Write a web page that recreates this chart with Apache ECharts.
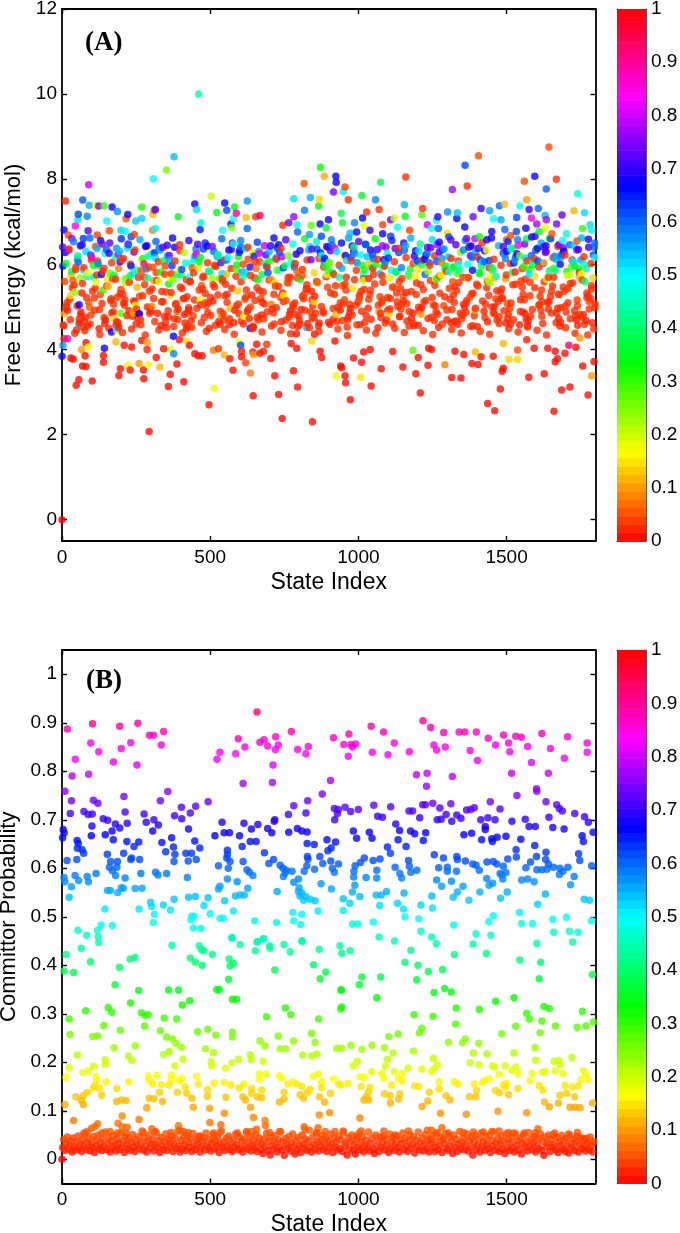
<!DOCTYPE html>
<html><head><meta charset="utf-8">
<script src="https://cdn.jsdelivr.net/npm/echarts@6/dist/echarts.min.js"></script>
<style>html,body{margin:0;padding:0;background:#fff}#c{width:680px;height:1233px}</style></head>
<body><div id="c"></div>
<script>
// Panel A: outlying points read individually [state, free energy, committor]
const freeEnergyOutliers = [[0,0,0.0],[461,10,.45],[378,8.53,.54],[308,8.01,.5],[352,8.22,.26],[90,7.87,.8],[12,7.49,.02],[70,7.51,.61],[92,7.39,.55],[114,7.38,.18],[124,7.37,.75],[142,7.38,.3],[169,7.35,.68],[187,7.24,.57],[222,7.17,.68],[216,7.07,.05],[249,7.02,.53],[269,7.08,.53],[269,7.35,.32],[315,7.29,.72],[311,7.27,.05],[307,7.17,.12],[392,7.12,.35],[448,7.42,.68],[454,7.29,.52],[503,7.6,.2],[522,7.22,.35],[549,7.44,.66],[556,7.27,.62],[582,7.35,.34],[588,7.2,.9],[625,7.49,.57],[621,7.1,.12],[654,7.12,.03],[668,7.15,.93],[55,7.18,.62],[54,7.05,.52],[85,7.13,.58],[45,6.9,.83],[151,7.02,.5],[7,6.81,.68],[88,6.79,.72],[21,6.69,.05],[33,6.61,.76],[72,6.61,.63],[119,6.69,.04],[160,6.79,.04],[199,6.8,.53],[213,6.78,.5],[233,6.65,.62],[244,6.7,.04],[306,6.8,.08],[315,6.84,.5],[466,6.82,.65],[469,6.98,.47],[542,6.8,.5],[570,6.95,.65],[578,7.07,.5],[573,6.86,.25],[625,6.84,.6],[782,7.54,.52],[818,7.27,.58],[782,7.12,.77],[745,6.92,.03],[765,6.98,.73],[793,6.93,.5],[841,6.92,.27],[817,7.9,.05],[868,7.53,.14],[838,7.57,.55],[866,7.37,.33],[872,8.28,.33],[885,8.07,.11],[924,8.07,.66],[925,7.93,.68],[916,7.7,.75],[871,6.95,.68],[899,7.05,.68],[891,6.86,.35],[942,7.2,.38],
[1405,8.55,.05],[1643,8.76,.05],[1360,8.33,.62],[1160,8.05,.03],[1075,7.93,.38],[1560,7.95,.05],[1595,8.07,.68],[1668,8,.03],[1317,7.76,.78],[1367,7.84,.03],[1634,7.77,.6],[1740,7.66,.47],[955,7.82,.04],[949,7.71,.5],[1012,7.62,.36],[1058,7.52,.58],[966,7.52,.03],[1568,7.52,.1],[1493,7.41,.12],[1476,7.38,.6],[1545,7.38,.5],[1155,7.4,.55],[1217,7.31,.03],[1070,7.29,.03],[1414,7.31,.7],[1443,7.26,.56],[1576,7.29,.7],[1607,7.31,.6],[1028,7.23,.03],[1301,7.23,.57],[1334,7.21,.54],[1158,7.13,.35],[1214,7.16,.28],[1727,7.26,.12],[1763,7.21,.52],[1687,7.16,.73],[1268,7.12,.7],[1332,7.08,.66],[1387,7.12,.75],[1456,7.07,.5],[1481,7.05,.56],[1534,7.1,.62],[1584,7.09,.85],[1602,6.95,.78],[1634,7.05,.78],[1669,6.95,.75],[1630,7.15,.55],[1014,7.09,.66],[987,6.98,.58],[1082,6.93,.04],[1109,7.05,.74],[1121,7.09,.2],[1263,7.04,.45],[1233,6.93,.8],[946,6.98,.36],[1019,6.91,.18],[1247,6.85,.5],[1270,6.84,.6],[1132,6.87,.5],[1359,6.88,.68],[1300,6.73,.14],[1631,6.86,.18],[1756,6.84,.3],[1782,6.93,.52],[1787,6.8,.48],[1039,6.8,.7],[972,6.73,.54],[994,6.76,.68],[1173,6.8,.04],[1082,6.72,.68],[1109,6.66,.63],[1450,6.77,.68],[1494,6.82,.6],[1533,6.77,.62],[1565,6.85,.68],[1596,6.66,.7],[1702,6.72,.47],[1653,6.72,.05],[1610,6.77,.34],[1514,6.68,.05],[1500,6.58,.05],[1365,6.61,.74],[1312,6.57,.72],[1433,6.58,.68],[1408,6.65,.34],[1568,6.6,.36],[1645,6.61,.34],[1776,6.59,.68],[1676,6.46,.74],[1737,6.55,.05],[1728,6.43,.52],
[294,2.07,.01],[496,2.7,.01],[513,3.09,.18],[743,2.38,.01],[845,2.3,.01],[731,2.94,.01],[645,2.91,.01],[795,3.12,.01],[781,3.5,.01],[718,3.38,.01],[577,3.51,.01],[636,3.45,.08],[48,3.16,.01],[57,3.29,.01],[102,3.26,.01],[192,3.39,.01],[197,3.55,.01],[230,3.52,.01],[276,3.31,.01],[275,3.52,.01],[222,3.63,.16],[260,3.67,.1],[291,3.64,.17],[330,3.59,.12],[359,3.13,.01],[365,3.42,.01],[411,3.24,.01],[388,3.66,.01],[69,3.61,.01],[81,3.6,.01],[78,3.85,.01],[0,3.84,.68],[140,3.7,.01],[140,3.86,.01],[143,4.03,.68],[30,3.8,.01],[38,3.77,.01],[3,4.1,.56],[7,4.25,.02],[19,4.25,.88],[81,4.16,.01],[66,4,.1],[89,4.06,.17],[210,4.1,.01],[235,4.06,.01],[269,4.21,.01],[287,4.17,.1],[287,4,.02],[318,3.81,.01],[343,4.02,.01],[367,4,.18],[377,3.9,.58],[376,4.31,.68],[396,4.23,.01],[421,4.2,.15],[430,4.1,.01],[448,3.9,.01],[460,3.85,.01],[473,3.85,.01],[511,3.98,.08],[528,4.02,.03],[548,3.87,.12],[566,3.78,.01],[597,4.17,.18],[603,4.1,.62],[606,3.96,.02],[606,3.83,.01],[620,3.69,.04],[657,4.12,.01],[646,3.88,.1],[644,3.94,.02],[691,4.12,.03],[680,3.96,.02],[668,3.91,.01],[705,3.79,.01],[773,4.14,.01],[792,4.03,.01],[842,4.2,.14],[852,4.36,.01],[825,4.52,.55],[791,4.37,.01],[871,3.96,.01],[876,3.81,.01],[921,4.2,.01],[940,3.61,.01],[925,3.38,.18],[57,4.6,.55],[635,4.5,.68],[167,4.41,.68],[188,4.5,.55],[185,4.45,.15],[182,4.18,.12],[261,4.84,.68],[58,5.05,.68],[198,4.85,.28],
[973,2.82,.01],[1043,3.14,.01],[1008,3.35,.15],[957,3.22,.01],[944,3.57,.01],[955,3.38,.01],[984,3.8,.01],[1011,3.7,.01],[1018,3.94,.01],[1040,4,.01],[1077,3.55,.01],[1116,3.95,.01],[1150,3.59,.01],[1194,3.43,.01],[1209,2.98,.01],[1235,3.63,.01],[1202,3.81,.01],[1184,3.98,.28],[1237,4.03,.01],[1247,4,.01],[1292,3.64,.08],[1315,3.34,.01],[1346,3.33,.01],[1326,3.96,.01],[1356,3.88,.01],[1395,3.94,.12],[1383,3.67,.01],[1404,3.65,.01],[1414,3.83,.01],[1455,3.84,.01],[1436,2.73,.01],[1460,2.56,.01],[1479,3.07,.01],[1489,3.56,.01],[1485,3.49,.01],[1508,3.77,.14],[1537,3.77,.14],[1537,3.99,.05],[1593,4.03,.01],[1575,3.35,.01],[1627,3.43,.01],[1660,2.55,.01],[1686,3.05,.01],[1714,3.12,.01],[1664,3.71,.01],[1672,3.78,.01],[1639,4.03,.01],[1664,3.96,.01],[1697,3.91,.01],[1734,4.05,.01],[1757,3.61,.01],[1795,3.72,.01],[1775,2.93,.01],[1787,3.38,.1],[1747,4.27,.1],[1774,4.34,.03],[1710,4.1,.93],[1489,4.14,.12],[1568,4.23,.02]];

// Panel A: crowded band, estimated readings [state / energy / committor in parallel]
const denseStates = [
37,4,52,19,44,11,58,26,2,49,33,15,55,8,41,22,60,29,47,13,
97,71,112,84,64,118,90,75,106,67,101,79,115,93,62,109,86,73,120,98,
138,159,127,171,144,122,165,133,176,150,129,168,141,179,125,156,136,174,147,162,
203,187,226,194,215,182,233,208,190,238,199,221,185,230,212,196,240,205,224,192,
268,247,291,256,279,243,298,262,285,250,273,295,259,282,245,289,265,276,253,300,
331,309,352,318,344,303,358,326,312,349,337,306,355,322,341,315,360,334,347,328,
392,366,417,378,405,362,413,385,371,398,419,375,409,363,388,402,380,415,368,395,
449,427,471,436,462,422,477,443,431,468,454,424,474,439,458,429,466,446,480,433,
512,486,533,495,524,483,538,506,490,529,501,519,484,536,497,515,527,492,540,509,
571,546,592,555,583,542,598,564,550,588,575,544,595,560,579,552,590,567,600,557,
632,608,651,617,644,603,658,625,612,648,636,605,655,620,640,614,660,628,646,622,
691,666,713,675,704,662,718,684,671,709,695,664,716,679,699,673,720,688,706,681,
752,726,771,737,763,722,777,745,731,768,756,724,774,740,759,734,780,748,766,742,
811,786,833,795,824,782,838,804,790,829,815,784,836,799,819,793,840,807,826,801,
872,846,893,855,884,842,898,865,851,889,876,844,896,860,880,853,900,868,886,862,
931,906,953,915,944,902,958,924,911,949,935,904,956,919,939,913,960,927,946,921,
992,966,1013,975,1004,962,1018,984,971,1009,996,964,1016,979,999,973,1020,988,1006,981,
1051,1026,1073,1035,1064,1022,1078,1044,1031,1069,1055,1024,1076,1039,1059,1033,1080,1048,1066,1041,
1112,1086,1133,1095,1124,1082,1138,1104,1091,1129,1116,1084,1136,1099,1120,1093,1140,1108,1126,1101,
1171,1146,1193,1155,1184,1142,1198,1164,1151,1189,1175,1144,1196,1159,1179,1153,1200,1168,1186,1161,
1232,1206,1253,1215,1244,1202,1258,1224,1211,1249,1235,1204,1256,1219,1239,1213,1260,1228,1246,1221,
1291,1266,1313,1275,1304,1262,1318,1284,1271,1309,1295,1264,1316,1279,1299,1273,1320,1288,1306,1281,
1352,1326,1373,1335,1364,1322,1378,1344,1331,1369,1355,1324,1376,1339,1359,1333,1380,1348,1366,1341,
1411,1386,1433,1395,1424,1382,1438,1404,1391,1429,1415,1384,1436,1399,1419,1393,1440,1408,1426,1401,
1472,1446,1493,1455,1484,1442,1498,1464,1451,1489,1475,1444,1496,1459,1479,1453,1500,1468,1486,1461,
1531,1506,1553,1515,1544,1502,1558,1524,1511,1549,1535,1504,1556,1519,1539,1513,1560,1528,1546,1521,
1592,1566,1613,1575,1604,1562,1618,1584,1571,1609,1595,1564,1616,1579,1599,1573,1620,1588,1606,1581,
1651,1626,1673,1635,1664,1622,1678,1644,1631,1669,1655,1624,1676,1639,1659,1633,1680,1648,1666,1641,
1712,1686,1733,1695,1724,1682,1738,1704,1691,1729,1715,1684,1736,1699,1719,1693,1740,1708,1726,1701,
1771,1746,1793,1755,1784,1742,1798,1764,1751,1789,1775,1744,1796,1759,1779,1753,1797,1768,1786,1761];
const denseEnergy = [
5.62,4.58,6.12,4.92,5.35,6.28,4.71,5.18,6.41,4.46,5.83,5.02,6.05,4.84,5.51,6.33,4.63,5.27,5.94,4.97,
6.22,4.52,5.44,5.71,4.88,6.37,5.11,4.67,5.98,5.33,6.16,4.76,5.58,4.99,6.44,5.21,4.55,5.87,6.08,4.81,
5.39,6.26,4.94,5.66,4.61,6.02,5.15,5.76,4.73,6.35,5.29,4.86,5.91,6.18,4.49,5.48,6.48,5.06,4.69,5.79,
6.11,5.23,4.91,6.31,5.56,4.57,5.96,5.09,6.24,4.78,5.41,6.39,4.65,5.73,5.17,6.06,4.87,5.31,6.46,4.53,
5.85,5.04,6.19,4.74,5.52,6.29,4.96,5.25,5.89,4.6,6.14,5.37,4.83,6.42,5.13,5.68,4.7,6.01,5.46,4.9,
6.34,5.2,4.51,5.81,6.09,5.01,4.77,5.6,6.27,4.64,5.36,5.93,6.45,4.85,5.12,6.15,5.54,4.56,5.77,6.38,
4.95,5.28,6.03,4.72,5.43,6.21,4.82,5.08,5.97,6.32,4.48,5.64,5.19,6.1,4.89,5.75,6.4,4.62,5.34,5.86,
6.2,4.98,5.5,4.68,6.07,5.24,6.36,4.79,5.7,5.05,6.25,4.54,5.42,5.92,6.47,4.93,5.16,6.13,4.75,5.59,
6.3,5.03,4.59,5.84,6.17,5.32,4.8,5.67,6.43,4.66,5.22,5.95,5.1,6.04,4.5,5.47,6.23,4.87,5.78,5.14,
6.35,4.7,5.38,6.1,4.92,5.61,6.28,4.58,5.26,5.88,6.5,4.84,5.07,6.16,4.63,5.53,5.99,4.97,6.33,5.3,
4.73,5.82,6.06,5.18,4.55,6.41,5.45,4.89,5.72,6.19,5,4.67,5.9,6.37,5.28,4.78,5.63,6.12,4.52,5.4,
5.94,6.26,4.86,5.11,6.44,4.69,5.55,6.02,5.2,4.95,5.8,6.31,4.6,5.35,6.08,4.81,5.49,6.22,5.06,4.72,
5.97,6.39,4.91,5.23,5.69,6.15,4.57,5.33,6.46,4.83,5.15,5.87,6.05,4.65,5.58,6.29,4.98,5.27,4.76,6.18,
5.74,5.09,6.34,4.54,5.42,6.01,4.88,5.65,6.24,4.61,5.19,5.93,6.42,4.79,5.31,5.83,6.11,4.94,5.52,4.68,
6.27,5.02,5.76,4.85,6.07,5.37,6.4,4.56,5.13,5.96,6.2,4.74,5.46,6.36,4.9,5.25,5.85,4.62,6.14,5.57,
4.99,6.32,5.17,4.71,5.91,6.03,5.4,4.82,6.45,5.08,5.7,4.59,6.21,5.3,4.93,5.81,6.09,4.66,5.5,6.38,
5.04,4.77,5.98,6.16,5.21,4.53,5.62,6.3,4.87,5.36,6.04,4.69,5.78,6.43,5.12,4.96,5.88,6.25,4.58,5.44,
6.13,4.8,5.24,5.67,6.35,4.64,5.1,5.92,6.18,4.89,5.54,6.47,4.75,5.29,6,4.97,5.73,6.23,4.51,5.39,
5.86,6.11,5.01,4.7,6.37,5.16,5.6,4.84,6.06,5.33,4.6,5.95,6.28,4.92,5.47,6.41,4.78,5.2,5.82,6.15,
4.55,5.07,5.71,6.33,4.86,5.43,6.02,4.67,5.26,6.19,5.89,4.95,5.56,6.44,4.73,5.14,6.08,5.77,4.61,5.34,
6.26,4.91,5.05,5.99,6.39,4.57,5.51,6.12,4.83,5.22,5.84,6.31,4.68,5.41,6.04,4.98,5.66,6.22,4.76,5.11,
5.9,6.46,4.63,5.32,6.17,4.88,5.59,6.35,4.52,5.18,5.96,6.07,4.94,5.75,4.7,6.29,5.28,5.03,5.83,6.14,
4.81,5.48,6.4,4.59,5.09,5.93,6.2,4.85,5.38,5.68,6.34,4.66,5.23,6.01,4.99,5.79,6.43,4.72,5.15,5.87,
6.1,4.56,5.45,6.27,4.9,5.31,5.63,6.38,4.79,5.06,5.97,6.16,4.65,5.53,6.05,4.93,5.27,5.81,6.32,4.54,
5.13,5.74,6.23,4.87,5.42,6.09,4.62,5.19,5.92,6.42,4.77,5.57,6.13,5,5.35,5.86,6.3,4.69,5.21,5.69,
6.18,4.83,5.46,6.36,4.58,5.08,5.95,6.03,4.96,5.61,6.25,4.74,5.3,5.8,6.45,4.6,5.17,6.11,4.89,5.52,
6.06,4.71,5.25,5.88,6.37,4.84,5.4,6.21,4.53,5.04,5.72,6.15,4.92,5.58,6.33,4.67,5.12,5.98,6.08,4.78,
5.36,6.41,4.97,5.65,6.19,4.61,5.29,5.85,6.28,4.86,5.49,6.02,4.73,5.1,5.91,6.44,4.55,5.24,6.12,4.95,
5.76,6.24,4.8,5.37,6.07,4.64,5.16,5.83,6.39,4.91,5.55,6.17,4.7,5.02,5.94,6.31,4.57,5.43,6.05,4.88,
5.33,5.7,6.22,4.76,5.2,6.35,4.98,5.6,6.1,4.63,5.27,5.89,6.4,4.82,5.13,5.78,6.16,4.68,5.5,6.01];
const denseCommittor = [
.05,.03,.56,.02,.25,.67,.03,.03,.72,.02,.38,.04,.6,.11,.03,.78,.02,.14,.04,.02,
.62,.03,.03,.45,.02,.55,.05,.03,.35,.02,.88,.02,.18,.06,.68,.03,.02,.52,.03,.04,
.3,.7,.03,.04,.02,.58,.02,.66,.14,.61,.04,.03,.03,.42,.02,.12,.74,.03,.02,.28,
.05,.03,.02,.54,.22,.03,.64,.02,.8,.03,.04,.52,.02,.36,.03,.68,.1,.03,.6,.02,
.05,.16,.48,.02,.03,.72,.03,.04,.58,.02,.31,.03,.02,.66,.03,.44,.04,.92,.12,.02,
.56,.03,.02,.04,.38,.08,.02,.2,.64,.03,.03,.05,.7,.02,.03,.52,.34,.02,.03,.6,
.02,.14,.48,.03,.03,.75,.02,.04,.63,.03,.02,.26,.03,.55,.05,.4,.68,.02,.03,.18,
.58,.03,.05,.02,.33,.03,.62,.04,.5,.02,.85,.03,.03,.06,.72,.02,.16,.46,.03,.03,
.6,.04,.02,.36,.54,.03,.1,.23,.67,.02,.03,.03,.05,.64,.02,.03,.41,.03,.52,.02,
.7,.03,.13,.58,.02,.04,.63,.02,.03,.28,.76,.03,.04,.5,.02,.03,.37,.12,.68,.03,
.02,.56,.03,.05,.03,.6,.03,.02,.44,.65,.04,.03,.07,.53,.02,.19,.35,.04,.02,.03,
.58,.82,.03,.02,.69,.03,.15,.47,.04,.02,.61,.55,.03,.03,.32,.02,.03,.72,.08,.03,
.4,.64,.02,.04,.03,.57,.03,.02,.66,.03,.05,.24,.5,.02,.12,.62,.03,.16,.03,.78,
.05,.03,.56,.02,.03,.43,.03,.33,.68,.02,.03,.6,.52,.03,.04,.06,.74,.02,.03,.02,
.64,.03,.18,.03,.57,.02,.7,.03,.14,.37,.5,.03,.04,.62,.03,.02,.3,.02,.66,.06,
.03,.72,.04,.02,.55,.26,.03,.12,.6,.03,.45,.02,.68,.03,.02,.4,.52,.03,.05,.88,
.03,.02,.36,.63,.04,.03,.2,.71,.02,.03,.58,.03,.48,.65,.03,.02,.32,.56,.03,.15,
.6,.03,.04,.02,.7,.03,.03,.42,.54,.1,.03,.66,.03,.04,.34,.02,.03,.62,.02,.03,
.47,.68,.03,.02,.73,.04,.03,.13,.57,.03,.03,.39,.62,.02,.05,.76,.03,.03,.52,.64,
.03,.04,.16,.6,.02,.03,.44,.03,.04,.7,.31,.03,.03,.55,.02,.03,.63,.5,.03,.02,
.58,.03,.04,.37,.72,.02,.03,.66,.1,.03,.23,.52,.03,.03,.6,.02,.18,.68,.03,.03,
.4,.78,.02,.03,.54,.03,.05,.64,.02,.03,.35,.61,.03,.17,.02,.7,.03,.04,.46,.57,
.03,.03,.65,.02,.03,.33,.74,.02,.03,.12,.58,.03,.04,.5,.02,.28,.68,.03,.03,.43,
.62,.03,.03,.56,.02,.04,.2,.7,.03,.03,.38,.6,.02,.03,.52,.1,.03,.33,.66,.02,
.03,.16,.54,.03,.03,.63,.02,.04,.36,.72,.03,.24,.58,.02,.03,.41,.68,.03,.03,.12,
.6,.03,.03,.5,.02,.05,.31,.64,.03,.03,.7,.02,.03,.4,.85,.02,.03,.56,.03,.03,
.45,.03,.03,.37,.66,.02,.03,.6,.02,.04,.14,.52,.03,.03,.72,.02,.03,.34,.62,.03,
.03,.68,.02,.18,.57,.03,.04,.42,.78,.03,.03,.64,.02,.03,.3,.7,.02,.03,.55,.03,
.2,.6,.03,.03,.48,.02,.04,.36,.75,.03,.03,.58,.02,.03,.27,.66,.02,.03,.52,.03,
.03,.12,.63,.02,.03,.7,.03,.4,.56,.02,.03,.33,.6,.03,.04,.18,.5,.02,.03,.46];

// Panel A: extra estimated low-energy readings in the crowded band [state, energy]
const lowEnergyFill = [[6,4.55],[17,5.1],[28,4.7],[35,5.45],[43,4.38],[51,5.02],[63,4.82],[69,5.55],[77,4.44],[83,5.22],[95,4.6],[103,5.37],[110,4.92],[117,5.75],[128,4.35],[135,5.08],[142,4.75],[151,5.5],[158,4.5],[166,5.19],[173,4.88],[181,5.65],[189,4.62],[197,5.31],[204,4.4],[211,5.04],[219,4.79],[227,5.58],[235,4.48],[242,5.14],[251,4.95],[258,5.7],[266,4.58],[272,5.26],[281,4.34],[288,5],[296,4.85],[304,5.42],[313,4.66],[320,5.62],[327,4.46],[336,5.12],[345,4.78],[351,5.35],[358,4.91],[369,5.78],[377,4.54],[383,5.06],[391,4.7],[399,5.47],[406,4.39],[414,5.2],[423,4.86],[431,5.6],[438,4.52],[447,5.16],[455,4.97],[463,5.4],[470,4.63],[478,5.72],[487,4.43],[494,5.09],[502,4.8],[510,5.52],[518,4.57],[526,5.28],[534,4.9],[541,5.66],[549,4.47],[557,5.11],[565,4.72],[573,5.44],[581,4.36],[589,5.03],[597,4.84],[604,5.59],[612,4.6],[620,5.23],[628,4.94],[636,5.74],[643,4.49],[651,5.15],[659,4.76],[667,5.38],[675,4.41],[683,5.07],[692,4.88],[699,5.63],[707,4.55],[715,5.3],[723,4.98],[731,5.48],[739,4.45],[747,5.13],[755,4.69],[763,5.56],[771,4.37],[779,5.05],[787,4.82],[795,5.68],[803,4.59],[811,5.25],[819,4.92],[827,5.43],[835,4.51],[843,5.17],[851,4.74],[859,5.6],[867,4.42],[875,5.01],[883,4.86],[891,5.71],[899,4.64],[907,5.33],[915,4.96],[923,5.5],[931,4.48],[939,5.1],[947,4.68],[955,5.54],[963,4.33],[971,5.06],[979,4.81],[987,5.64],[995,4.58],[1003,5.27],[1011,4.9],[1019,5.41],[1027,4.46],[1035,5.18],[1043,4.71],[1051,5.76],[1059,4.38],[1067,5.04],[1075,4.85],[1083,5.58],[1091,4.62],[1099,5.22],[1107,4.95],[1115,5.46],[1123,4.5],[1131,5.12],[1139,4.77],[1147,5.67],[1155,4.4],[1163,5.08],[1171,4.89],[1179,5.36],[1187,4.56],[1195,5.29],[1203,4.99],[1211,5.52],[1219,4.44],[1227,5.15],[1235,4.73],[1243,5.62],[1251,4.35],[1259,5.02],[1267,4.83],[1275,5.73],[1283,4.6],[1291,5.24],[1299,4.93],[1307,5.44],[1315,4.47],[1323,5.11],[1331,4.67],[1339,5.57],[1347,4.39],[1355,5.06],[1363,4.87],[1371,5.69],[1379,4.54],[1387,5.32],[1395,4.97],[1403,5.49],[1411,4.43],[1419,5.14],[1427,4.75],[1435,5.61],[1443,4.36],[1451,5],[1459,4.84],[1467,5.38],[1475,4.61],[1483,5.2],[1491,4.91],[1499,5.75],[1507,4.49],[1515,5.09],[1523,4.7],[1531,5.53],[1539,4.41],[1547,5.17],[1555,4.88],[1563,5.65],[1571,4.57],[1579,5.26],[1587,4.94],[1595,5.45],[1603,4.45],[1611,5.05],[1619,4.78],[1627,5.59],[1635,4.34],[1643,5.13],[1651,4.86],[1659,5.7],[1667,4.63],[1675,5.3],[1683,4.98],[1691,5.47],[1699,4.51],[1707,5.1],[1715,4.72],[1723,5.56],[1731,4.38],[1739,5.03],[1747,4.82],[1755,5.63],[1763,4.59],[1771,5.22],[1779,4.95],[1787,5.42],[1794,4.48],[1799,5.07]];

// Panel A: extra estimated upper-band readings, colours mixed [state, energy, committor]
const upperEnergyFill = [[3,5.96,.66],[9,5.6,.04],[14,6.02,.35],[24,6.36,.03],[31,5.75,.12],[39,6.53,.58],[46,5.88,.03],[53,6.2,.42],[61,5.68,.24],[68,6.46,.7],[74,5.92,.03],[81,6.3,.52],[87,5.8,.18],[94,6.62,.6],[99,6.1,.03],[107,5.7,.46],[113,6.42,.05],[121,5.98,.34],[130,6.56,.66],[137,5.84,.03],[145,6.26,.5],[153,5.65,.15],[161,6.5,.72],[168,6.04,.03],[176,5.74,.38],[184,6.38,.57],[191,5.9,.08],[200,6.6,.64],[207,6.14,.03],[214,5.66,.28],[223,6.48,.78],[231,6,.03],[239,5.78,.52],[246,6.34,.04],[254,5.86,.42],[263,6.58,.55],[270,6.12,.2],[278,5.7,.03],[286,6.44,.68],[293,5.94,.03],[301,6.24,.46],[310,5.62,.1],[317,6.54,.6],[325,6.06,.03],[333,5.82,.32],[340,6.4,.74],[348,5.96,.04],[356,6.2,.56],[365,5.68,.17],[373,6.62,.66],[381,6.08,.03],[389,5.76,.4],[397,6.46,.03],[404,5.88,.62],[412,6.28,.22],[420,5.64,.03],[428,6.56,.7],[436,6.02,.5],[444,5.8,.03],[452,6.36,.58],[459,5.92,.14],[467,6.16,.36],[475,5.7,.03],[483,6.5,.64],[491,6.04,.03],[499,5.84,.44],[507,6.42,.76],[515,5.98,.03],[523,6.22,.53],[531,5.66,.27],[539,6.6,.6],[547,6.1,.03],[555,5.78,.12],[563,6.34,.68],[571,5.9,.03],[579,6.48,.47],[587,5.72,.03],[595,6.18,.33],[603,6.56,.58],[611,6,.04],[619,5.82,.52],[627,6.4,.03],[635,5.94,.7],[643,6.26,.19],[651,5.68,.03],[659,6.52,.62],[667,6.06,.03],[675,5.76,.38],[683,6.44,.8],[691,5.96,.03],[699,6.3,.55],[707,5.64,.1],[715,6.62,.66],[723,6.12,.03],[731,5.86,.43],[739,6.38,.03],[747,5.92,.64],[755,6.58,.72],[763,6.2,.26],[771,5.7,.03],[779,6.48,.5],[787,6.02,.03],[795,6.76,.6],[803,6.32,.68],[811,5.88,.03],[819,6.6,.35],[827,6.1,.03],[835,6.7,.56],[843,6.36,.74],[851,5.8,.14],[859,6.54,.45],[867,6.14,.03],[875,6.66,.62],[883,5.94,.03],[893,6.42,.7],[901,6.04,.3],[909,6.58,.58],[917,5.76,.03],[927,6.3,.52],[935,5.98,.03],[943,6.5,.66],[951,6.18,.18],[959,5.7,.03],[967,6.62,.56],[976,6.08,.03],[985,6.4,.4],[993,5.86,.03],[1001,6.54,.72],[1009,6.22,.5],[1017,5.66,.03],[1025,6.46,.6],[1033,6,.12],[1041,6.34,.68],[1049,5.9,.03],[1057,6.6,.34],[1065,6.12,.03],[1073,5.78,.54],[1081,6.44,.78],[1089,5.96,.03],[1097,6.26,.46],[1105,5.68,.2],[1113,6.56,.64],[1121,6.06,.03],[1129,5.82,.38],[1137,6.38,.03],[1145,5.92,.58],[1153,6.5,.7],[1161,6.16,.03],[1169,5.72,.28],[1177,6.62,.55],[1185,6.02,.03],[1193,6.32,.66],[1201,5.88,.15],[1209,6.48,.42],[1217,6.1,.03],[1225,5.76,.6],[1233,6.4,.74],[1241,5.98,.03],[1249,6.58,.52],[1257,6.2,.03],[1265,5.66,.33],[1273,6.52,.68],[1281,6.04,.08],[1289,6.36,.56],[1297,5.84,.03],[1305,6.64,.62],[1313,6.14,.03],[1321,5.94,.45],[1329,6.46,.72],[1337,6.08,.03],[1345,6.28,.24],[1353,5.7,.03],[1361,6.56,.58],[1369,6,.5],[1377,6.42,.03],[1385,5.86,.66],[1393,6.6,.8],[1401,6.18,.03],[1409,5.78,.36],[1417,6.5,.03],[1425,6.06,.6],[1433,6.34,.17],[1441,5.92,.03],[1449,6.62,.68],[1457,6.12,.03],[1465,5.72,.48],[1473,6.44,.55],[1481,5.98,.03],[1489,6.26,.7],[1497,5.66,.1],[1505,6.54,.64],[1513,6.02,.03],[1521,6.38,.4],[1529,5.82,.03],[1537,6.58,.58],[1545,6.2,.28],[1553,5.9,.03],[1561,6.48,.74],[1569,6.08,.03],[1577,5.76,.52],[1585,6.64,.66],[1593,6.14,.03],[1601,6.36,.34],[1609,5.94,.03],[1617,6.5,.56],[1625,6.04,.12],[1633,6.3,.72],[1641,5.7,.03],[1649,6.6,.62],[1657,6.16,.03],[1665,5.86,.42],[1673,6.42,.03],[1681,6,.68],[1689,6.56,.5],[1697,6.22,.03],[1705,5.74,.2],[1713,6.46,.6],[1721,6.1,.03],[1729,5.96,.36],[1737,6.34,.78],[1745,5.8,.03],[1753,6.62,.55],[1761,6.18,.03],[1769,5.9,.46],[1777,6.4,.7],[1785,6.02,.03],[1791,5.68,.14],[1797,6.5,.6]];

// Panel B: readings above the crowded band [state, committor probability]
const committorUpper = [[18,.887],[103,.898],[195,.893],[256,.899],[295,.874],[309,.874],[343,.882],[335,.854],[232,.859],[200,.847],[97,.858],[124,.84],[45,.825],[174,.819],[253,.813],[34,.79],[90,.794],[10,.759],[32,.739],[106,.74],[121,.734],[209,.748],[332,.739],[357,.758],[403,.726],[451,.728],[493,.737],[28,.713],[74,.717],[88,.711],[102,.712],[213,.716],[277,.712],[380,.708],[404,.702],[433,.714],[139,.702],[154,.699],[284,.695],[310,.7],[325,.689],[306,.677],[220,.693],[180,.691],[195,.683],[169,.677],[146,.669],[101,.687],[99,.667],[4,.68],[7,.673],[2,.663],[370,.663],[337,.653],[448,.656],[427,.681],[51,.657],[55,.651],[173,.659],[219,.655],[259,.654],[243,.645],[52,.641],[68,.638],[73,.631],[153,.629],[208,.631],[235,.621],[232,.618],[262,.618],[376,.644],[381,.629],[350,.634],[378,.614],[418,.631],[437,.631],[426,.615],[453,.618],[465,.642],[17,.616],[50,.618],[164,.614],[187,.614],[160,.602],[185,.602],[170,.595],[181,.585],[213,.58],[266,.589],[7,.581],[10,.572],[32,.562],[44,.585],[56,.575],[85,.583],[89,.572],[115,.589],[316,.592],[324,.586],[353,.589],[423,.581],[24,.54],[154,.554],[163,.554],[188,.55],[200,.56],[207,.559],[247,.558],[270,.559],[145,.516],[260,.516],[299,.53],[303,.521],[312,.505],[308,.488],[342,.524],[366,.514],[378,.536],[427,.54],[450,.542],[479,.523],[493,.539],[500,.506],[438,.501],[447,.501],[435,.494],[444,.477],[469,.476],
[516,.667],[540,.695],[547,.673],[565,.673],[599,.667],[608,.645],[614,.693],[528,.605],[558,.637],[558,.628],[556,.621],[567,.614],[561,.6],[611,.614],[624,.597],[632,.592],[644,.585],[635,.655],[655,.655],[639,.681],[661,.69],[611,.775],[658,.922],[533,.839],[523,.825],[586,.836],[595,.867],[617,.85],[668,.86],[682,.865],[694,.852],[721,.871],[730,.854],[720,.845],[712,.813],[710,.777],[774,.882],[795,.845],[823,.836],[831,.851],[916,.869],[782,.729],[829,.739],[878,.753],[906,.781],[764,.711],[823,.714],[694,.682],[708,.673],[718,.7],[716,.697],[765,.674],[794,.682],[809,.677],[827,.675],[683,.632],[698,.61],[714,.618],[736,.606],[746,.6],[756,.596],[753,.59],[747,.583],[776,.594],[782,.571],[798,.578],[828,.624],[830,.619],[826,.605],[817,.594],[852,.598],[827,.651],[851,.649],[894,.659],[897,.636],[908,.642],[870,.624],[880,.61],[907,.615],[912,.6],[919,.592],[933,.609],[923,.654],[919,.723],[932,.721],[920,.7],[929,.713],[726,.552],[800,.56],[798,.552],[803,.543],[815,.534],[809,.549],[822,.542],[837,.536],[854,.533],[874,.568],[909,.557],[779,.509],[864,.512],[724,.488],[782,.492],[809,.505],[805,.484],[650,.492],[533,.497],[544,.497],[549,.533],[578,.512],[533,.563],[528,.557],[558,.578],[591,.572],[585,.543],[601,.545],[615,.545],[627,.559],[54,.472],[83,.462],[120,.472],[122,.459],[132,.483],[170,.482],[573,.457],[660,.449],[680,.455],[810,.45],
[968,.877],[1043,.893],[1085,.881],[1218,.904],[1244,.89],[1288,.88],[1340,.881],[1359,.881],[1398,.881],[1438,.868],[1490,.875],[1531,.872],[1550,.87],[1619,.878],[1706,.871],[1772,.858],[951,.855],[975,.855],[991,.856],[980,.85],[966,.831],[1047,.839],[1100,.834],[1121,.858],[1172,.84],[1255,.854],[1264,.844],[1293,.85],[1377,.843],[1402,.822],[1463,.854],[1507,.858],[1511,.84],[1571,.851],[1584,.818],[1648,.847],[1695,.827],[1772,.839],[1196,.793],[1232,.796],[1230,.769],[1317,.789],[1517,.796],[1641,.796],[1535,.75],[1601,.764],[1602,.759],[955,.726],[974,.717],[1000,.721],[1052,.73],[1109,.727],[1065,.707],[1081,.705],[1171,.718],[1183,.718],[1207,.704],[1217,.731],[1226,.731],[1251,.734],[1275,.724],[1312,.733],[1365,.72],[1379,.721],[1391,.725],[1445,.737],[1478,.722],[1633,.737],[1669,.731],[1678,.723],[1688,.718],[1730,.713],[1643,.705],[1763,.706],[1776,.695],[1266,.7],[1279,.701],[1296,.711],[1315,.697],[1332,.71],[1346,.703],[1413,.7],[1437,.704],[1461,.7],[1428,.686],[1428,.68],[1518,.697],[1563,.701],[1576,.686],[1597,.686],[1656,.684],[1694,.681],[1126,.691],[1139,.678],[1176,.677],[1190,.671],[1227,.673],[983,.677],[994,.662],[1037,.674],[1046,.662],[1134,.659],[1219,.657],[1356,.669],[1382,.672],[1416,.659],[1450,.661],[1452,.655],[1468,.664],[1498,.666],[1548,.66],[1755,.667],[1759,.655],[1792,.674],[1161,.645],[1098,.644],[1108,.631],[1595,.647],[1532,.638],[1533,.623],[1633,.633],[1601,.624],[1743,.63],[1747,.616],[1256,.628],[1287,.621],[1332,.624],[1334,.618],[1361,.615],[1504,.619],[1386,.609],[1397,.606],[1408,.596],[1434,.613],[1455,.614],[1467,.609],[1489,.604],[1581,.613],[1632,.618],[1641,.609],[1020,.621],[1007,.612],[989,.605],[1050,.616],[1073,.619],[1169,.616],[1124,.602],[1787,.605],[1271,.601],[1300,.602],[1300,.594],[1331,.594],[1565,.601],[1602,.597],[1619,.597],[1636,.598],[1658,.602],[1680,.6],[1707,.602],[1678,.587],[1690,.594],[1498,.591],[1478,.589],[1062,.596],[1062,.58],[1026,.581],[985,.594],[984,.582],[1172,.604],[1177,.592],[1197,.596],[1140,.589],[1146,.58],[1728,.583],[1716,.566],[1264,.576],[1314,.573],[1281,.563],[1353,.563],[1334,.551],[1320,.54],[1410,.551],[1433,.579],[1441,.565],[1453,.569],[1484,.586],[1487,.578],[1551,.576],[1571,.578],[1593,.572],[988,.565],[980,.551],[1005,.542],[949,.537],[971,.528],[1060,.545],[1077,.545],[1095,.552],[1154,.549],[1248,.543],[1373,.534],[1480,.538],[1502,.551],[1631,.547],[1762,.536],[1780,.534],[1132,.528],[1211,.524],[1250,.518],[1152,.516],[1157,.5],[1072,.523],[1605,.526],[949,.513],[1544,.509],[1455,.502],[1440,.49],[1204,.496],[1656,.495],[1702,.499],[1787,.492],[980,.485],[997,.485],[1050,.489],[1322,.483],[1551,.486],[1587,.486]];
const committorLower = [[7,.388],[14,.422],[65,.435],[124,.447],[96,.407],[39,.385],[194,.396],[246,.416],[230,.413],[371,.441],[463,.44],[471,.432],[433,.415],[450,.406],[473,.4],[479,.43],[507,.422],[564,.413],[578,.404],[567,.399],[601,.443],[574,.456],[652,.43],[700,.44],[702,.435],[658,.448],[680,.454],[749,.443],[770,.428],[810,.45],[868,.433],[849,.401],[890,.386],[871,.372],[718,.39],[562,.371],[179,.36],[259,.348],[360,.349],[393,.349],[522,.35],[531,.35],[431,.327],[406,.318],[231,.322],[575,.33],[589,.33],[156,.313],[168,.303],[80,.306],[24,.289],[268,.302],[280,.297],[291,.298],[345,.291],[387,.289],[754,.312],[772,.298],[690,.294],[866,.289],[943,.349],[940,.31],[27,.257],[104,.253],[120,.254],[141,.276],[197,.266],[279,.275],[332,.265],[353,.252],[373,.248],[385,.239],[403,.231],[458,.263],[492,.268],[519,.256],[575,.262],[575,.252],[668,.244],[685,.234],[729,.254],[781,.244],[842,.26],[854,.241],[176,.23],[247,.234],[484,.228],[511,.22],[736,.228],[755,.228],[52,.215],[812,.215],[842,.213],[860,.217],[927,.229],[224,.213],[236,.204],[146,.205],[146,.196],[343,.216],[362,.222],[408,.206],[503,.201],[505,.193],[635,.215],[638,.205],[552,.188],[574,.199],[596,.206],[678,.202],[24,.189],[14,.169],[70,.179],[89,.182],[107,.192],[381,.193],[115,.171],[117,.162],[149,.16],[185,.146],[225,.16],[291,.171],[320,.173],[294,.164],[306,.155],[335,.154],[370,.173],[370,.164],[361,.153],[404,.167],[396,.162],[454,.171],[460,.155],[513,.157],[547,.158],[570,.153],[614,.155],[640,.146],[666,.176],[688,.176],[666,.165],[734,.172],[741,.167],[763,.155],[779,.159],[792,.155],[809,.15],[848,.171],[865,.176],[876,.16],[876,.148],[916,.166],[933,.155],[110,.152],[126,.147],[47,.129],[72,.131],[85,.138],[106,.147],[134,.132],[10,.113],[65,.121],[72,.113],[185,.119],[201,.122],[216,.121],[286,.106],[294,.126],[310,.125],[329,.138],[339,.119],[389,.138],[416,.149],[421,.136],[438,.126],[491,.144],[491,.13],[498,.105],[553,.128],[599,.147],[610,.129],[619,.122],[659,.129],[640,.136],[674,.127],[674,.143],[734,.118],[749,.124],[749,.138],[803,.133],[815,.126],[828,.138],[837,.144],[869,.129],[886,.118],[906,.136],[636,.107],[868,.091],[903,.096],[548,.095],[443,.107],[39,.08],[260,.082],[203,.089],[646,.086],[499,.076],[685,.08],[687,.069],[536,.071],[189,.074],[120,.073],[817,.067],[864,.065],[393,.069],
[1070,.458],[1122,.45],[1211,.47],[1247,.458],[1263,.445],[1397,.465],[1447,.462],[1387,.444],[1602,.445],[1723,.448],[1659,.468],[1712,.47],[1741,.468],[972,.43],[944,.425],[938,.44],[1177,.431],[1324,.422],[1432,.424],[1157,.406],[1201,.4],[1545,.411],[1615,.406],[1284,.391],[1236,.387],[1012,.376],[1075,.376],[1197,.37],[1003,.36],[1610,.372],[1790,.381],[941,.349],[1291,.352],[1313,.345],[1255,.344],[1062,.333],[1463,.326],[1525,.333],[1330,.312],[944,.314],[1626,.315],[1644,.311],[1408,.309],[1188,.298],[1252,.295],[1568,.301],[1577,.289],[1619,.285],[1756,.305],[1328,.279],[1531,.274],[1665,.275],[1738,.272],[1768,.275],[1793,.283],[1214,.27],[1206,.261],[1613,.261],[1484,.259],[1134,.258],[1103,.253],[1361,.248],[1351,.24],[1304,.241],[1406,.239],[975,.235],[944,.229],[1046,.235],[1012,.227],[1088,.23],[1596,.23],[1186,.223],[1117,.219],[1388,.219],[1434,.217],[1525,.219],[1098,.206],[1253,.208],[1721,.21],[1598,.204],[1377,.199],[1407,.195],[1660,.202],[1677,.203],[1680,.195],[996,.202],[983,.193],[1090,.192],[1266,.195],[1256,.187],[1452,.193],[1495,.193],[1459,.19],[1531,.19],[1518,.183],[1539,.177],[1167,.188],[1214,.186],[1121,.181],[1079,.177],[1045,.181],[1147,.177],[1247,.181],[1619,.179],[1630,.181],[1664,.182],[1690,.177],[1759,.183],[1766,.175],[1586,.177],[1005,.17],[1019,.169],[1085,.167],[1135,.167],[1148,.161],[1475,.175],[1441,.166],[1427,.162],[1418,.158],[1775,.164],[1750,.164],[1579,.162],[1272,.16],[1323,.16],[1336,.155],[965,.156],[941,.153],[1112,.153],[1190,.151],[1204,.15],[1009,.15],[1039,.148],[1391,.155],[1500,.156],[1489,.153],[1498,.149],[1610,.152],[1623,.143],[1697,.152],[1742,.151],[1722,.149],[1273,.145],[1538,.146],[1399,.142],[1463,.142],[1034,.138],[1239,.138],[1476,.137],[1507,.133],[1140,.135],[1088,.135],[1107,.131],[1026,.129],[1680,.132],[1703,.136],[1296,.131],[1375,.129],[1396,.129],[1729,.129],[1136,.124],[1019,.122],[1035,.122],[1309,.122],[1234,.12],[1108,.116],[1628,.118],[1675,.116],[1790,.116],[1215,.109],[1644,.108],[1714,.107],[1731,.107],[1748,.106],[1471,.099],[1277,.095],[1364,.093],[1568,.096],[1005,.085],[1009,.058],[949,.058],[1233,.06],[1247,.06],[1282,.065],[1606,.063],[1169,.058],
[74,.054],[85,.057],[100,.064],[111,.067],[134,.054],[162,.057],[187,.054],[203,.067],[220,.066],[216,.054],[274,.055],[303,.063],[314,.057],[367,.055],[398,.06],[410,.057],[426,.055],[466,.048],[511,.054],[533,.055],[592,.054],[623,.057],[640,.057],[657,.062],[700,.055],[734,.057],[820,.062],[860,.055],[888,.057],[921,.057],[994,.047],[1084,.048],[1124,.05],[1264,.052],[1304,.054],[1354,.055],[1388,.056],[1422,.056],[1450,.057],[1475,.058],[1506,.055],[1523,.054],[1559,.054],[1596,.054],[1658,.05],[1709,.052],[1739,.055],[1765,.043]];

// Panel B: crowded band near zero, one reading every fourth state
const committorBand = [
.024,.041,.018,.033,.046,.021,.029,.038,.015,.044,.026,.019,.036,.048,.022,.031,.016,.04,.027,.052,
.02,.035,.043,.017,.03,.024,.047,.014,.039,.028,.05,.021,.034,.018,.042,.026,.056,.02,.032,.045,
.015,.037,.023,.049,.028,.017,.041,.033,.02,.054,.025,.038,.014,.046,.03,.022,.043,.018,.035,.051,
.026,.016,.04,.029,.047,.021,.034,.058,.019,.044,.027,.015,.037,.05,.023,.032,.042,.017,.03,.055,
.024,.039,.014,.045,.028,.02,.036,.052,.018,.041,.026,.033,.048,.016,.031,.043,.022,.057,.027,.015,
.038,.021,.046,.03,.018,.049,.035,.024,.042,.016,.053,.028,.02,.04,.032,.047,.015,.026,.037,.044,
.019,.054,.029,.023,.041,.017,.034,.05,.021,.038,.027,.045,.014,.031,.058,.024,.036,.018,.043,.028,
.048,.02,.033,.016,.04,.025,.052,.03,.019,.046,.022,.037,.015,.042,.027,.055,.021,.034,.047,.017,
.029,.039,.023,.051,.016,.035,.044,.02,.031,.012,.041,.026,.053,.018,.037,.009,.045,.028,.021,.049,
.033,.015,.04,.024,.056,.019,.036,.008,.043,.03,.022,.047,.017,.034,.052,.026,.011,.039,.02,.045,
.029,.014,.05,.032,.023,.042,.018,.037,.06,.025,.015,.046,.031,.021,.054,.035,.017,.041,.027,.049,
.02,.033,.044,.016,.038,.024,.052,.03,.014,.043,.026,.036,.019,.048,.022,.04,.016,.055,.028,.034,
.009,.045,.021,.037,.05,.018,.031,.011,.042,.025,.053,.02,.035,.047,.015,.029,.039,.023,.056,.017,
.033,.044,.021,.012,.05,.027,.038,.016,.046,.024,.034,.058,.019,.041,.029,.014,.052,.022,.036,.045,
.018,.031,.048,.025,.015,.04,.033,.054,.02,.043,.027,.016,.037,.05,.023,.03,.046,.013,.039,.026,
.056,.019,.034,.044,.017,.029,.051,.021,.038,.015,.042,.031,.048,.024,.016,.036,.055,.02,.028,.045,
.014,.04,.033,.053,.022,.018,.047,.027,.037,.012,.05,.025,.041,.016,.031,.057,.021,.035,.044,.019,
.029,.052,.017,.038,.023,.046,.009,.034,.049,.02,.028,.042,.015,.054,.026,.036,.018,.045,.03,.022,
.05,.014,.039,.027,.056,.019,.033,.043,.016,.031,.048,.021,.037,.012,.052,.025,.04,.018,.034,.046,
.023,.015,.053,.029,.038,.019,.044,.011,.032,.05,.024,.036,.017,.055,.027,.041,.02,.034,.047,.015,
.029,.043,.022,.052,.018,.037,.008,.046,.026,.033,.05,.016,.04,.024,.03,.054,.019,.045,.014,.035,
.028,.049,.021,.038,.016,.043,.027,.013,.05,.032,.023,.041,.018,.036,.047,.015,.03,.045,.022,.039,.026,.017,.043,.033,.02,.046,.028,.015,.036];

const xTicks = [0,500,1000,1500];
const energyTicks = [0,2,4,6,8,10,12];
const probabilityTicks = [0,.1,.2,.3,.4,.5,.6,.7,.8,.9,1];
const colorbarTicks = [0,.1,.2,.3,.4,.5,.6,.7,.8,.9,1];
const hsvStops = ['#ff0000','#ffff00','#00ff00','#00ffff','#0000ff','#ff00ff','#ff0000'];
const colorLevels = Array.from({length:64},(_,i)=>[i/64,(i+1)/64,(i+.5)/64]);

const energyData = freeEnergyOutliers
  .concat(denseEnergy.map((f,i)=>[denseStates[i],f,denseCommittor[i]]))
  .concat(lowEnergyFill.map(p=>[p[0],p[1],.03]))
  .concat(upperEnergyFill)
  .sort((a,b)=>a[0]-b[0]);
const probabilityData = committorUpper.concat(committorLower).map(p=>[p[0],p[1],p[1]])
  .concat(committorBand.map((v,i)=>[i*4+2,v,v])).concat([[0,0,0]]);

const font = 'Liberation Sans, Arial, sans-serif';
const ink = '#000';
const line = {lineStyle:{color:ink,width:1.8}};
function mainAxes(gridIndex, yMin, yMax, yTicks, yName, nameGap){
  const tick = vals => ({show:true,inside:true,length:5,customValues:vals,lineStyle:{color:ink,width:1.4}});
  const x = {type:'value',gridIndex,min:0,max:1800,axisLine:Object.assign({show:true,onZero:false},line),splitLine:{show:false}};
  const y = {type:'value',gridIndex,min:yMin,max:yMax,axisLine:Object.assign({show:true,onZero:false},line),splitLine:{show:false}};
  return {
    x:[Object.assign({},x,{position:'bottom',name:'State Index',nameLocation:'middle',nameGap:30,nameTextStyle:{fontFamily:font,fontSize:23,color:ink},
        axisTick:tick(xTicks),axisLabel:{customValues:xTicks,fontFamily:font,fontSize:19,color:ink,margin:7,formatter:v=>String(v)}}),
       Object.assign({},x,{position:'top',axisTick:tick(xTicks),axisLabel:{show:false}})],
    y:[Object.assign({},y,{position:'left',name:yName,nameLocation:'middle',nameGap,nameTextStyle:{fontFamily:font,fontSize:22,color:ink},
        axisTick:tick(yTicks),axisLabel:{customValues:yTicks,fontFamily:font,fontSize:19,color:ink,margin:5,formatter:v=>String(v)}}),
       Object.assign({},y,{position:'right',axisTick:tick(yTicks),axisLabel:{show:false}})]
  };
}
function barAxes(gridIndex){
  const grey = {show:true,onZero:false,lineStyle:{color:'#555',width:1}};
  const tick = {show:true,inside:true,length:4,customValues:colorbarTicks,lineStyle:{color:'#444',width:1}};
  const x = {type:'value',gridIndex,min:0,max:1,axisLine:grey,axisTick:{show:false},axisLabel:{show:false},splitLine:{show:false}};
  const y = {type:'value',gridIndex,min:0,max:1,axisLine:grey,axisTick:tick,splitLine:{show:false}};
  return {
    x:[Object.assign({},x,{position:'bottom'}),Object.assign({},x,{position:'top'})],
    y:[Object.assign({},y,{position:'right',axisLabel:{customValues:colorbarTicks,fontFamily:font,fontSize:19,color:ink,margin:5,formatter:v=>String(+v.toFixed(1))}}),
       Object.assign({},y,{position:'left',axisLabel:{show:false}})]
  };
}
const A = mainAxes(0,-.5,12,energyTicks,'Free Energy (kcal/mol)',17);
const B = mainAxes(1,-.05,1.05,probabilityTicks,'Committor Probability',17);
const CA = barAxes(2), CB = barAxes(3);
const xAxes = [...A.x,...B.x,...CA.x,...CB.x];
const yAxes = [...A.y,...B.y,...CA.y,...CB.y];
const dots = (xi,yi,data)=>({type:'scatter',xAxisIndex:xi,yAxisIndex:yi,data,symbol:'circle',symbolSize:7.5,clip:false,silent:true,animation:false,progressive:0});
const bar = (xi,yi)=>({type:'custom',xAxisIndex:xi,yAxisIndex:yi,data:colorLevels,silent:true,animation:false,encode:{y:[0,1]},
  renderItem:(p,api)=>{const a=api.coord([0,api.value(0)]),b=api.coord([1,api.value(1)]);
    return {type:'rect',shape:{x:a[0],y:b[1],width:b[0]-a[0],height:a[1]-b[1]+.5},style:{fill:api.visual('color')}};}});
const noBounds = {outerBoundsMode:'none'};

echarts.init(document.getElementById('c'),null,{renderer:'canvas'}).setOption({
  animation:false,backgroundColor:'#fff',
  grid:[Object.assign({left:62,top:9,width:533.5,height:532},noBounds),Object.assign({left:62,top:650,width:533.5,height:533.5},noBounds),
        Object.assign({left:617,top:9,width:29,height:532},noBounds),Object.assign({left:617,top:650,width:29,height:533.5},noBounds)],
  xAxis:xAxes,yAxis:yAxes,
  visualMap:[{type:'continuous',show:false,min:0,max:1,dimension:2,seriesIndex:[0,1,2,3],inRange:{color:hsvStops}}],
  series:[dots(0,0,energyData),dots(2,2,probabilityData),bar(4,4),bar(6,6)],
  graphic:[
    {type:'text',left:85,top:30,style:{text:'(A)',font:'bold 27px Liberation Serif',fill:ink}},
    {type:'text',left:86,top:668,style:{text:'(B)',font:'bold 27px Liberation Serif',fill:ink}}
  ]
});
</script></body></html>
